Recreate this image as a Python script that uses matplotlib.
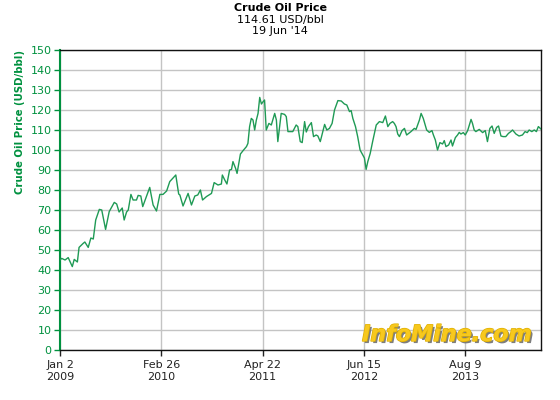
import matplotlib
matplotlib.use("Agg")
import matplotlib.pyplot as plt
import matplotlib.patheffects as pe
import numpy as np
import pandas as pd

start_date = "2009-01-02"
end_date = "2014-06-19"
days_since_start = [0, 7, 21, 34, 51, 59, 72, 79, 96, 103, 117, 128, 138, 148, 163, 173, 189, 204, 225, 235,
                    245, 258, 266, 276, 283, 294, 303, 317, 324, 335, 343, 372, 386, 400, 414, 427, 442, 455,
                    480, 492, 497, 510, 531, 545, 559, 571, 582, 591, 607, 628, 639, 655, 669, 673, 683, 692,
                    703, 711, 717, 728, 734, 748, 759, 773, 779, 786, 793, 800, 807, 814, 821, 828, 835, 841,
                    848, 855, 866, 876, 890, 897, 903, 917, 931, 938, 945, 965, 979, 986, 996, 1004, 1014,
                    1021, 1030, 1042, 1051, 1062, 1069, 1079, 1087, 1097, 1106, 1117, 1128, 1138, 1152, 1166,
                    1179, 1189, 1200, 1207, 1214, 1225, 1234, 1244, 1255, 1262, 1269, 1276, 1286, 1296, 1311,
                    1324, 1338, 1349, 1359, 1368, 1379, 1386, 1393, 1400, 1407, 1418, 1428, 1437, 1455, 1469,
                    1476, 1490, 1497, 1506, 1520, 1531, 1542, 1548, 1556, 1565, 1575, 1586, 1593, 1600, 1611,
                    1621, 1627, 1639, 1648, 1655, 1662, 1672, 1680, 1690, 1704, 1710, 1717, 1724, 1738, 1752,
                    1763, 1772, 1782, 1791, 1800, 1810, 1818, 1828, 1837, 1848, 1859, 1869, 1876, 1890, 1903,
                    1917, 1928, 1937, 1945, 1956, 1966, 1975, 1983, 1994]
price = [45, 45.8, 45, 46.2, 41.7, 45.3, 44, 51.3, 53.3, 54, 51.3, 56, 55.5, 65, 70.3, 70, 60.3, 69.2, 73.8, 73,
         69, 71, 65, 69, 70, 77.8, 75, 75, 77.3, 77, 71.7, 81.3, 72.5, 69.5, 77.8, 77.8, 79.5, 84.2,
         87.5, 78, 77.5, 72, 78.3, 72.5, 77, 77.5, 80, 75, 76.7, 78.3, 83.7, 82.5, 83, 87.5, 85, 83,
         90, 90.3, 94.2, 90.8, 88.3, 98, 99.7, 101.7, 103.3, 111.7, 115.8, 115, 110, 115, 118.3, 126.3, 123, 124,
         125, 110, 113.3, 112.5, 118.3, 115, 104.2, 118.3, 117.8, 116.7, 109.2, 109.2, 112.5, 111.7, 104.2, 103.7, 114.2,
         109, 111.7, 113.7, 106.7, 107.5, 107, 104.2, 108, 112.8, 110, 110.8, 113.3, 120, 124.7, 124.5,
         123, 122.5, 119.2, 119.7, 115.8, 111.7, 106.7, 100, 97.5, 96, 90.3, 94.2, 98.3, 104.2, 112.5,
         114.2, 113.7, 117, 111.7, 113.3, 114.2, 113.3, 111.7, 108, 106.7, 109.7, 110.8, 107.5, 109.2, 110.8,
         110.3, 115, 118.3, 115.8, 110, 108.8, 109.7, 107.5, 105, 100, 103.7, 103, 104.7, 101.7, 102.5,
         105, 102, 106.2, 107.5, 108.8, 108, 108.7, 107.5, 109.7, 115.3, 113.3, 110, 109.2, 110.3, 108.7,
         109.7, 104.2, 110.8, 112, 108.3, 111.3, 112, 107, 106.7, 106.7, 108.3, 109.2, 110, 108, 107,
         107.5, 109.2, 108.7, 110, 109.2, 110, 109.2, 111.7, 110.5]
tick_dates = ["2009-01-02", "2010-02-26", "2011-04-22", "2012-06-15", "2013-08-09"]
tick_labels = ["Jan 2\n2009", "Feb 26\n2010", "Apr 22\n2011", "Jun 15\n2012", "Aug 9\n2013"]
y_ticks = list(range(0, 151, 10))

green = "#00913f"
line_green = "#1f9a55"

dates = pd.Timestamp(start_date) + pd.to_timedelta(days_since_start, unit="D")

fig = plt.figure(figsize=(5.6, 4.0), dpi=100)
ax = fig.add_axes([60/560, 50/400, 481/560, 300/400])
ax.plot(dates, price, color=line_green, lw=1.0, zorder=3)

ax.set_xlim(pd.Timestamp(start_date), pd.Timestamp(end_date))
ax.set_ylim(0, 150)
ax.set_yticks(y_ticks)
ax.set_xticks(pd.to_datetime(tick_dates))
ax.set_xticklabels(tick_labels, fontsize=8, color="#222222", linespacing=1.25)
ax.tick_params(axis="y", colors=green, labelsize=8, length=4, width=1, pad=2)
ax.tick_params(axis="x", length=4, width=1, color="#222222", pad=3)
ax.grid(True, color="#c4c4c4", lw=1)
ax.set_axisbelow(True)
for s in ["top", "right", "bottom"]:
    ax.spines[s].set_color("#111111")
    ax.spines[s].set_linewidth(1)
ax.spines["left"].set_color(green)
ax.spines["left"].set_linewidth(1.5)

ax.set_ylabel("Crude Oil Price (USD/bbl)", color=green, fontsize=7.3, fontweight="bold")
ax.yaxis.set_label_coords(-0.073, 0.76)

fig.text(280/560, 1 - 8/400, "Crude Oil Price", ha="center", va="center", fontsize=8, fontweight="bold")
fig.text(280/560, 1 - 20/400, "114.61 USD/bbl", ha="center", va="center", fontsize=8)
fig.text(280/560, 1 - 31/400, "19 Jun '14", ha="center", va="center", fontsize=8)

fig.text(447/560, 1 - 335/400, "InfoMine.com", ha="center", va="center", fontsize=16,
         fontweight="bold", style="italic", color="#f7c81e", zorder=5,
         path_effects=[pe.SimplePatchShadow(offset=(1.5, -1.5), shadow_rgbFace="#707070", alpha=0.9),
                       pe.withStroke(linewidth=1, foreground="#e0b000")])

fig.savefig("out.png", dpi=100)
